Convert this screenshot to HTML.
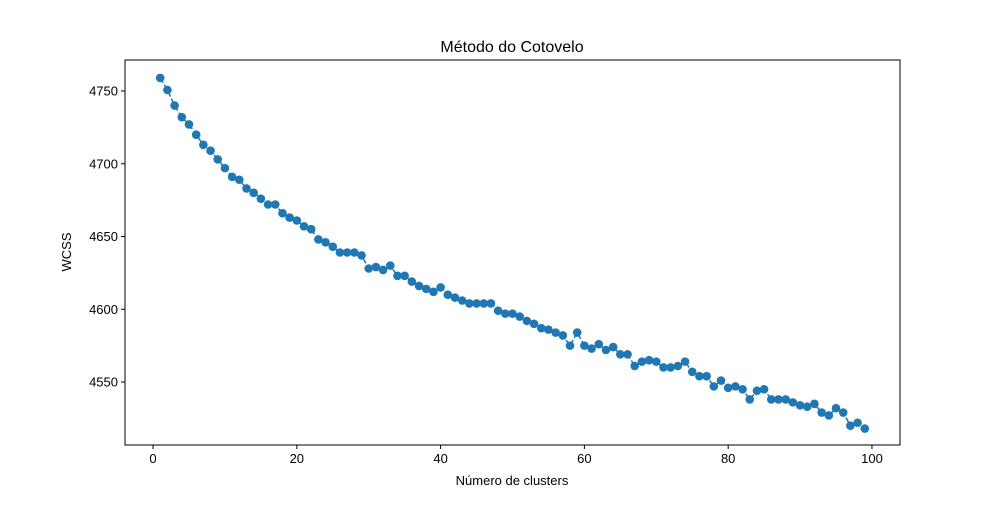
<!DOCTYPE html>
<html><head><meta charset="utf-8"><style>
body{margin:0;background:#fff;}
svg text{font-family:"Liberation Sans",sans-serif;fill:#000;}
</style></head><body>
<svg id="chart" width="1000" height="500" xmlns="http://www.w3.org/2000/svg">
<rect width="1000" height="500" fill="#fff"/>
<text x="512" y="52" font-size="16" text-anchor="middle">Método do Cotovelo</text>
<text x="512" y="485" font-size="13" text-anchor="middle">Número de clusters</text>
<text x="71" y="252" font-size="13" text-anchor="middle" transform="rotate(-90 71 252)">WCSS</text>
<g id="ticks"></g>
<g id="series"></g>
<rect x="125" y="60" width="775" height="385" fill="none" stroke="#000" stroke-width="1"/>
</svg>
<script>
const xTicks=[0,20,40,60,80,100];
const yTicks=[4550,4600,4650,4700,4750];
const clusters=[];for(let k=1;k<=99;k++)clusters.push(k);
const wcss=[4759,4750.7,4740,4732,4727,4720,4713,4709,4703,4697,4691,4689,4683,4680,4676,4672,4672,4666,4663,4661,4657,4655,4648,4646,4643,4639,4639,4639,4637,4628,4629,4627,4630,4623,4623,4619,4616,4614,4612,4615,4610,4608,4606,4604,4604,4604,4604,4599,4597,4597,4595,4592,4590,4587,4586,4584,4582,4575,4584,4575,4573,4576,4572,4574,4569,4569,4561,4564,4565,4564,4560,4560,4561,4564,4557,4554,4554,4547,4551,4546,4547,4545,4538,4544,4545,4538,4538,4538,4536,4534,4533,4535,4529,4527,4532,4529,4520,4522,4518];
const NS='http://www.w3.org/2000/svg';
const X0=125,X1=900,Y0=445,Y1=60;
const xmin=-3.9,xmax=103.9;
const ymin=4750-(Y0-91)/1.455, ymax=4750+(91-Y1)/1.455;
const sx=v=>X0+(v-xmin)/(xmax-xmin)*(X1-X0);
const sy=v=>Y0-(v-ymin)/(ymax-ymin)*(Y0-Y1);
function mk(tag,attrs,parent){const e=document.createElementNS(NS,tag);for(const k in attrs)e.setAttribute(k,attrs[k]);parent.appendChild(e);return e;}
const tg=document.getElementById('ticks');
xTicks.forEach(t=>{
  const l=mk('line',{x1:sx(t),x2:sx(t),y1:Y0,y2:Y0+4,stroke:'#000'},tg);
  
  
  const tx=mk('text',{x:sx(t),y:Y0+18,'font-size':13,'text-anchor':'middle'},tg);
  tx.textContent=t;
  
  
});
yTicks.forEach(t=>{
  const l=mk('line',{x1:X0-4,x2:X0,y1:sy(t),y2:sy(t),stroke:'#000'},tg);
  
  
  const tx=mk('text',{x:X0-7,y:sy(t)+4.5,'font-size':13,'text-anchor':'end'},tg);
  tx.textContent=t;
  
  
});
const sg=document.getElementById('series');
const pts=clusters.map((c,i)=>sx(c).toFixed(2)+','+sy(wcss[i]).toFixed(2)).join(' ');
const pl=mk('polyline',{points:pts,fill:'none',stroke:'#1f77b4','stroke-width':1.5,'stroke-dasharray':'5.5,2.4'},sg);


clusters.forEach((c,i)=>{
  const p=mk('circle',{cx:sx(c),cy:sy(wcss[i]),r:4.3,fill:'#1f77b4'},sg);
  
  
});
</script>
</body></html>
